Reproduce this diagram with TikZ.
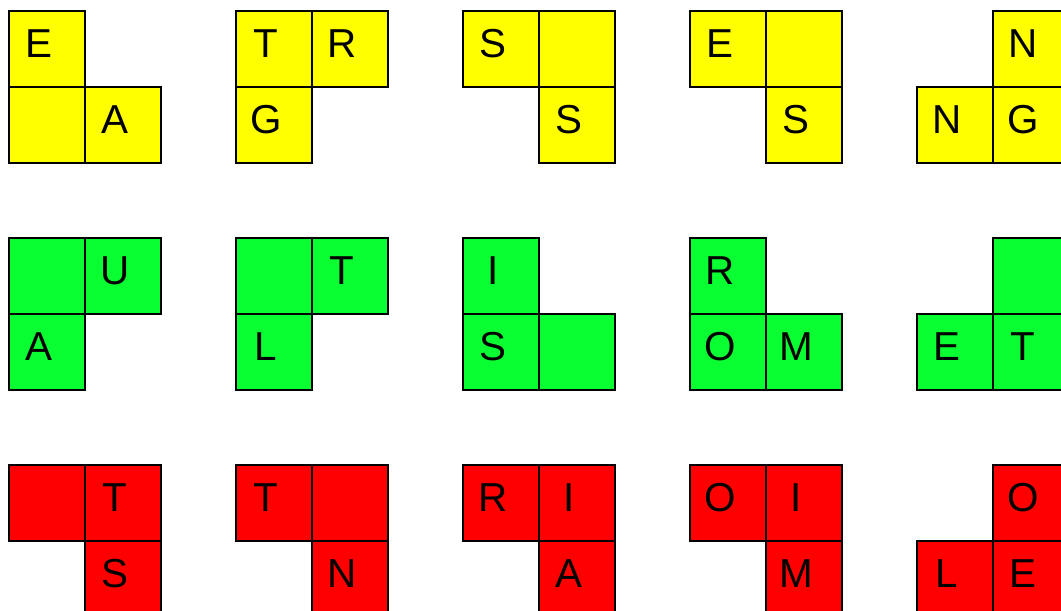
\documentclass[tikz,border=0pt]{standalone}
\usepackage{fontspec}
\setmainfont{Liberation Sans}
\usetikzlibrary{positioning}
\definecolor{TileYellow}{RGB}{255,255,0}
\definecolor{TileGreen}{RGB}{10,255,50}
\definecolor{TileRed}{RGB}{255,0,0}

\begin{document}
\begin{tikzpicture}[
    x=0.02cm, y=-0.02cm,
    node distance=0pt,
    cell/.style={draw=black, rectangle, line width=0.85pt, minimum size=1.52cm, inner sep=0pt, outer sep=0pt, label={[letter]center:#1}},
    letter/.style={xshift=-0.16cm, yshift=0.11cm, inner sep=0pt, font=\fontsize{23}{23}\selectfont},
    ycell/.style={cell=#1, fill=TileYellow},
    gcell/.style={cell=#1, fill=TileGreen},
    rcell/.style={cell=#1, fill=TileRed}
]
\useasboundingbox (0,0) rectangle (1061,611);
\clip (0,0) rectangle (1061,611);

% yellow row
\node[ycell=E, anchor=north west] (y1a) at (9,11) {};
\node[ycell={}, below=of y1a] (y1b) {};
\node[ycell=A, right=of y1b] (y1c) {};

\node[ycell=T, anchor=north west] (y2a) at (236,11) {};
\node[ycell=R, right=of y2a] (y2b) {};
\node[ycell=G, below=of y2a] (y2c) {};

\node[ycell=S, anchor=north west] (y3a) at (463,11) {};
\node[ycell={}, right=of y3a] (y3b) {};
\node[ycell=S, below=of y3b] (y3c) {};

\node[ycell=E, anchor=north west] (y4a) at (690,11) {};
\node[ycell={}, right=of y4a] (y4b) {};
\node[ycell=S, below=of y4b] (y4c) {};

\node[ycell=N, anchor=north west] (y5a) at (993,11) {};
\node[ycell=G, below=of y5a] (y5b) {};
\node[ycell=N, left=of y5b] (y5c) {};

% green row
\node[gcell={}, anchor=north west] (g1a) at (9,238) {};
\node[gcell=U, right=of g1a] (g1b) {};
\node[gcell=A, below=of g1a] (g1c) {};

\node[gcell={}, anchor=north west] (g2a) at (236,238) {};
\node[gcell=T, right=of g2a] (g2b) {};
\node[gcell=L, below=of g2a] (g2c) {};

\node[gcell=I, anchor=north west] (g3a) at (463,238) {};
\node[gcell=S, below=of g3a] (g3b) {};
\node[gcell={}, right=of g3b] (g3c) {};

\node[gcell=R, anchor=north west] (g4a) at (690,238) {};
\node[gcell=O, below=of g4a] (g4b) {};
\node[gcell=M, right=of g4b] (g4c) {};

\node[gcell={}, anchor=north west] (g5a) at (993,238) {};
\node[gcell=T, below=of g5a] (g5b) {};
\node[gcell=E, left=of g5b] (g5c) {};

% red row
\node[rcell={}, anchor=north west] (r1a) at (9,465) {};
\node[rcell=T, right=of r1a] (r1b) {};
\node[rcell=S, below=of r1b] (r1c) {};

\node[rcell=T, anchor=north west] (r2a) at (236,465) {};
\node[rcell={}, right=of r2a] (r2b) {};
\node[rcell=N, below=of r2b] (r2c) {};

\node[rcell=R, anchor=north west] (r3a) at (463,465) {};
\node[rcell=I, right=of r3a] (r3b) {};
\node[rcell=A, below=of r3b] (r3c) {};

\node[rcell=O, anchor=north west] (r4a) at (690,465) {};
\node[rcell=I, right=of r4a] (r4b) {};
\node[rcell=M, below=of r4b] (r4c) {};

\node[rcell=O, anchor=north west] (r5a) at (993,465) {};
\node[rcell=E, below=of r5a] (r5b) {};
\node[rcell=L, left=of r5b] (r5c) {};
\end{tikzpicture}
\end{document}
